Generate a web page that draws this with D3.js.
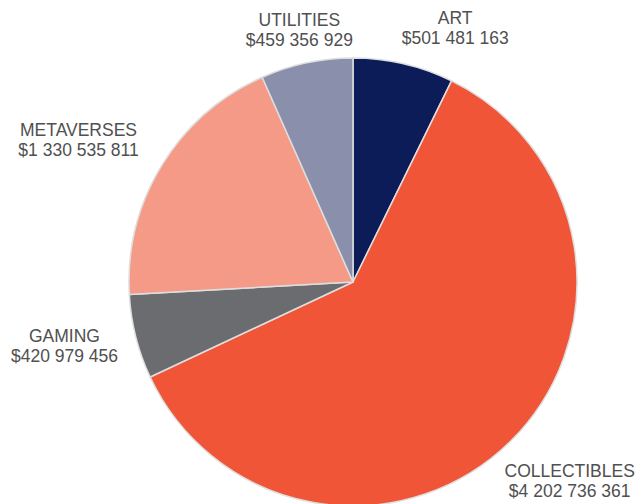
<!DOCTYPE html>
<html>
<head>
<meta charset="utf-8">
<script src="https://cdn.jsdelivr.net/npm/d3@7/dist/d3.min.js"></script>
<style>
  html, body { margin: 0; padding: 0; background: #fff; }
  svg { display: block; }
  text { font-family: "Liberation Sans", Arial, Helvetica, sans-serif; }
</style>
</head>
<body>
<svg id="chart" width="635" height="504"></svg>
<script>
// NFT sales volume by category (USD)
const categories = ["ART", "COLLECTIBLES", "GAMING", "METAVERSES", "UTILITIES"];
const volumes = [501481163, 4202736361, 420979456, 1330535811, 459356929];
const colors = ["#0b1c59", "#f05537", "#6b6c70", "#f59a87", "#8a90ac"];

const width = 635, height = 504;
const cx = 353, cy = 282, radius = 224;

const svg = d3.select("#chart");
const g = svg.append("g").attr("transform", `translate(${cx},${cy})`);

const data = categories.map((c, i) => ({ category: c, value: volumes[i], color: colors[i] }));

const pie = d3.pie().value(d => d.value).sort(null);
const arc = d3.arc().innerRadius(0).outerRadius(radius);
const arcs = pie(data);

g.selectAll("path.slice")
  .data(arcs)
  .join("path")
  .attr("class", "slice")
  .attr("d", arc)
  .attr("fill", d => d.data.color)
  .attr("stroke", "#dedede")
  .attr("stroke-width", 1.5)
  .attr("stroke-linejoin", "round");

// money format with space-separated thousands
const fmt = v => "$" + d3.format(",")(v).replace(/,/g, " ");

// Labels sit just outside the rim at each slice's mid-angle, pushed outward by
// half their own box so they never overlap the pie. A few get a manual tweak.
const gap = 20, lineH = 20, capH = 12.5;
const tweak = { ART: [35, -1], UTILITIES: [8, 2], METAVERSES: [-15, -6], GAMING: [0, 0], COLLECTIBLES: [0, 13] };

const labels = g.selectAll("text.label")
  .data(arcs)
  .join("text")
  .attr("class", "label")
  .attr("text-anchor", "middle")
  .attr("font-size", 17.5)
  .attr("fill", "#505050");

labels.append("tspan").attr("class", "name").attr("x", 0).attr("y", 0).text(d => d.data.category);
labels.append("tspan").attr("class", "val").attr("x", 0).attr("y", lineH).text(d => fmt(d.data.value));

labels.each(function (d) {
  const t = d3.select(this);
  const w = Math.max(...t.selectAll("tspan").nodes().map(n => n.getComputedTextLength()));
  const h = capH + lineH;
  const a = (d.startAngle + d.endAngle) / 2;
  const s = Math.sin(a), c = -Math.cos(a);
  const r = radius + gap;
  const [tx, ty] = tweak[d.data.category] || [0, 0];
  const bx = r * s + s * w / 2 + tx;
  const by = r * c + c * h / 2 + ty;
  // box centre -> baseline of the first line
  const y0 = by - h / 2 + capH;
  t.attr("transform", `translate(${bx},${y0})`);
});
</script>
</body>
</html>
